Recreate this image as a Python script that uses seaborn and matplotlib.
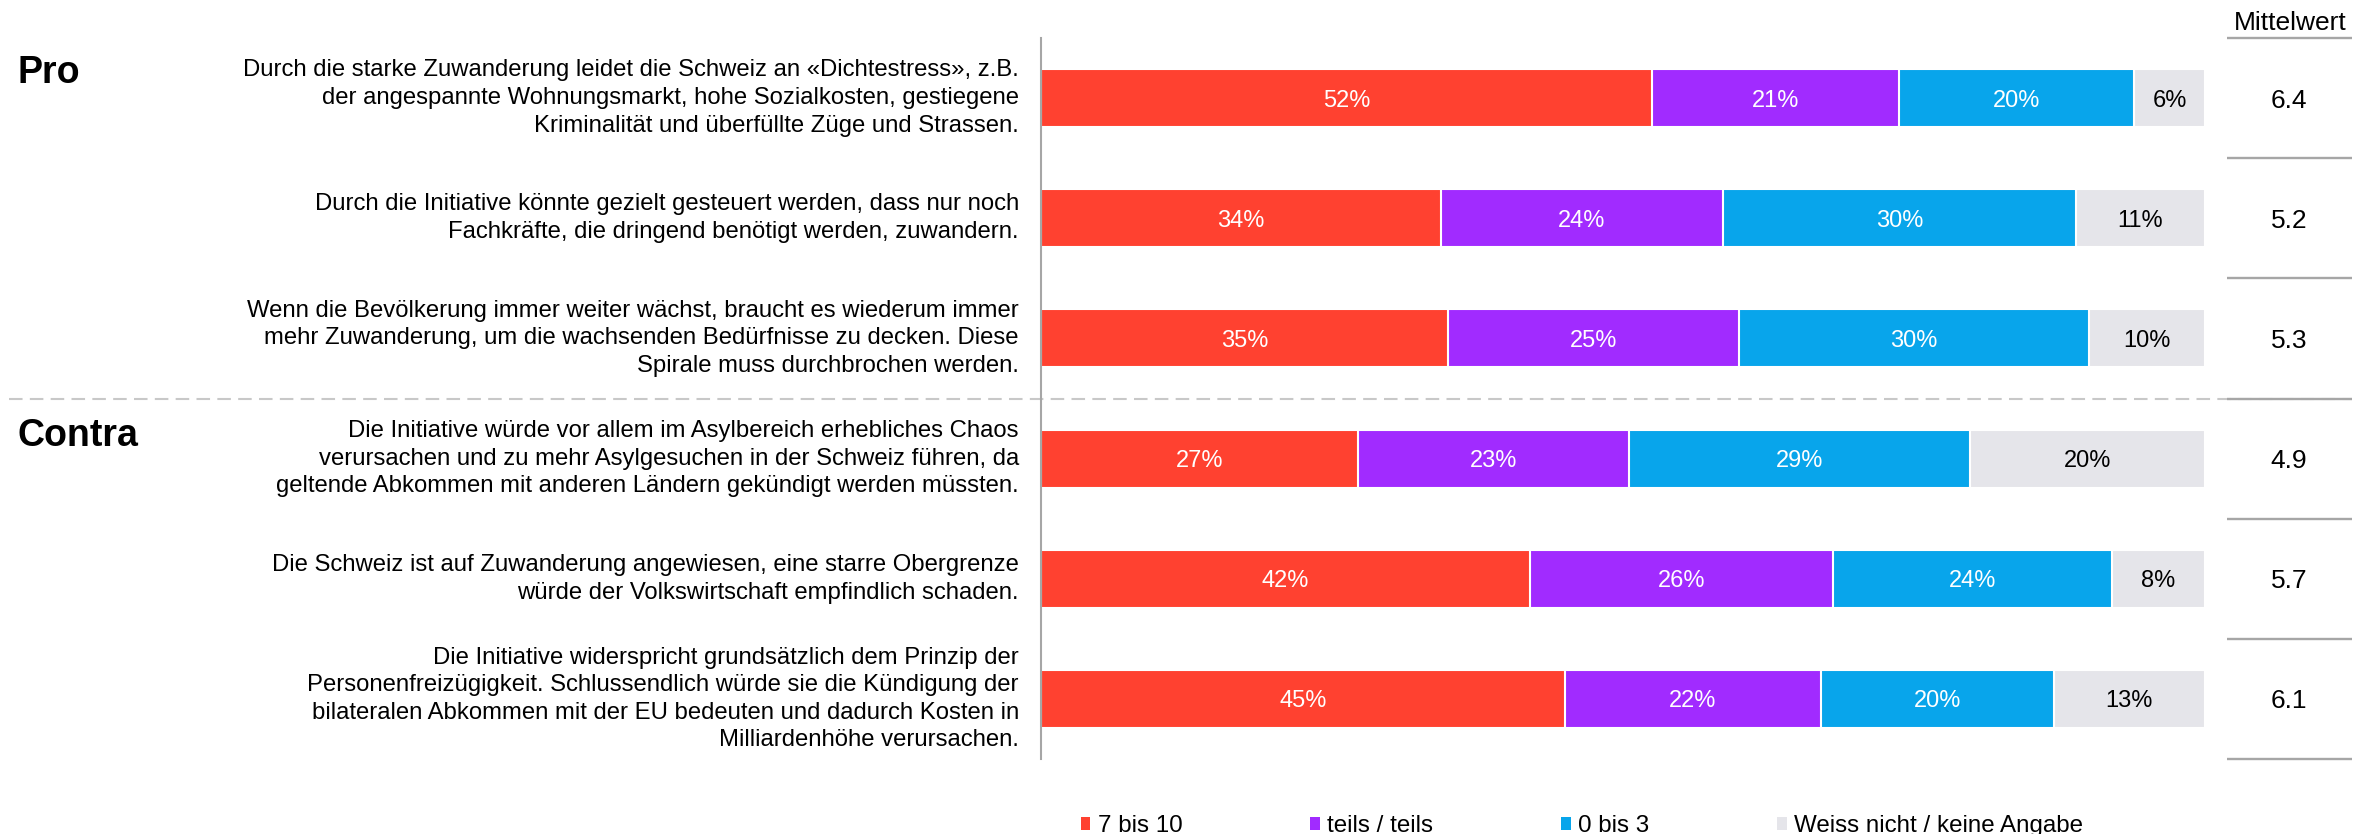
import numpy as np
import matplotlib.pyplot as plt
from matplotlib.patches import Patch
import seaborn as sns

# Data
statements = [
    "Durch die starke Zuwanderung leidet die Schweiz an «Dichtestress», z.B.\n"
    "der angespannte Wohnungsmarkt, hohe Sozialkosten, gestiegene\n"
    "Kriminalität und überfüllte Züge und Strassen.",
    "Durch die Initiative könnte gezielt gesteuert werden, dass nur noch\n"
    "Fachkräfte, die dringend benötigt werden, zuwandern.",
    "Wenn die Bevölkerung immer weiter wächst, braucht es wiederum immer\n"
    "mehr Zuwanderung, um die wachsenden Bedürfnisse zu decken. Diese\n"
    "Spirale muss durchbrochen werden.",
    "Die Initiative würde vor allem im Asylbereich erhebliches Chaos\n"
    "verursachen und zu mehr Asylgesuchen in der Schweiz führen, da\n"
    "geltende Abkommen mit anderen Ländern gekündigt werden müssten.",
    "Die Schweiz ist auf Zuwanderung angewiesen, eine starre Obergrenze\n"
    "würde der Volkswirtschaft empfindlich schaden.",
    "Die Initiative widerspricht grundsätzlich dem Prinzip der\n"
    "Personenfreizügigkeit. Schlussendlich würde sie die Kündigung der\n"
    "bilateralen Abkommen mit der EU bedeuten und dadurch Kosten in\n"
    "Milliardenhöhe verursachen.",
]
groups = ["Pro", "Contra"]
categories = ["7 bis 10", "teils / teils", "0 bis 3", "Weiss nicht / keine Angabe"]
share_7_10 = [52, 34, 35, 27, 42, 45]
share_teils = [21, 24, 25, 23, 26, 22]
share_0_3 = [20, 30, 30, 29, 24, 20]
share_wn = [6, 11, 10, 20, 8, 13]
mittelwert = [6.4, 5.2, 5.3, 4.9, 5.7, 6.1]

colors = ["#FF4130", "#A12BFF", "#08A5EB", "#E5E5EA"]
text_colors = ["white", "white", "white", "black"]

sns.set_theme(style="white")
plt.rcParams['font.family'] = ['Liberation Sans', 'DejaVu Sans']
plt.rcParams['text.color'] = 'black'

W, H = 2379, 834
fig = plt.figure(figsize=(W / 100, H / 100), dpi=100)
ax = fig.add_axes([1041 / W, 1 - 759 / H, 1164 / W, 721 / H])

raw = np.array([share_7_10, share_teils, share_0_3, share_wn], dtype=float)
shares = raw / raw.sum(axis=0) * 100  # rounded values, bars fill the full width
cum = shares.cumsum(axis=0)
rows = [str(i) for i in range(len(statements))]

# stacked bars: draw cumulative totals from the back to the front
for k in reversed(range(len(categories))):
    sns.barplot(x=cum[k], y=rows, orient='h', color=colors[k], saturation=1,
                width=0.483, edgecolor='white', linewidth=1.5, errorbar=None, ax=ax)

ax.set_xlim(0, 100)
ax.set_ylim(5.5, -0.5)
ax.set_xticks([])
ax.set_yticks([])
ax.set_xlabel('')
ax.set_ylabel('')
for side in ['top', 'right', 'bottom']:
    ax.spines[side].set_visible(False)
ax.spines['left'].set_color('#A6A6A6')
ax.spines['left'].set_linewidth(1.5)

# percentage labels inside the segments
for k in range(len(categories)):
    for i in range(len(statements)):
        xc = cum[k, i] - shares[k, i] / 2
        ax.text(xc, i, f"{int(raw[k, i])}%", ha='center', va='center_baseline',
                color=text_colors[k], fontsize=17)

# statements
for i, s in enumerate(statements):
    ax.text(-1.9, i, s, ha='right', va='center', fontsize=17.2, linespacing=1.33)

# group titles
ax.text(-87.9, -0.125, groups[0], fontsize=27, fontweight='bold', va='baseline', ha='left')
ax.text(-87.9, 2.895, groups[1], fontsize=27, fontweight='bold', va='baseline', ha='left')

# dashed separator between Pro and Contra
ax.plot([-88.7, 112.6], [2.5, 2.5], color='#C8C8C8', lw=1.5,
        ls=(0, (6.5, 3.5)), clip_on=False)

# Mittelwert column
ax.text(107.3, -0.567, "Mittelwert", ha='center', va='baseline', fontsize=19)
for i, m in enumerate(mittelwert):
    ax.text(107.2, i, f"{m:.1f}", ha='center', va='center_baseline', fontsize=19)
ax.hlines(np.arange(-0.5, 6.0, 1.0), 101.9, 112.6, color='#A6A6A6', lw=1.7, clip_on=False)

handles = [Patch(facecolor=c, edgecolor='none', label=l) for c, l in zip(colors, categories)]
fig.legend(handles=handles, loc='center', bbox_to_anchor=(0.665, 0.0096), ncol=4,
           frameon=False, fontsize=17.4, handlelength=0.4, handleheight=0.5,
           handletextpad=0.3, columnspacing=5.3, borderpad=0, borderaxespad=0)

fig.savefig('out.png', dpi=100)
